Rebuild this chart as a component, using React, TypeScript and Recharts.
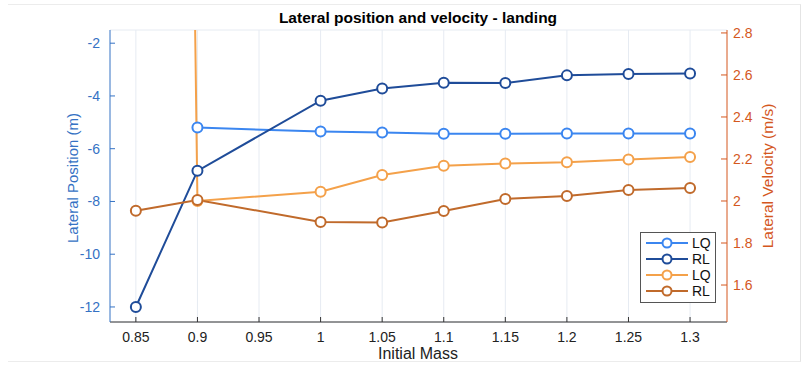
import React from 'react';
import { LineChart, Line, XAxis, YAxis, CartesianGrid } from 'recharts';

// Initial mass values on the x axis
const masses = [0.85, 0.9, 0.95, 1, 1.05, 1.1, 1.15, 1.2, 1.25, 1.3];

// Lateral position (m), left axis
const posLQ = [null, -5.2, null, -5.35, -5.39, -5.43, -5.43, -5.42, -5.42, -5.42];
const posRL = [-12.0, -6.84, null, -4.18, -3.72, -3.5, -3.51, -3.22, -3.17, -3.15];

// Lateral velocity (m/s), right axis
const velLQ = [24, 2.0, null, 2.044, 2.124, 2.168, 2.178, 2.184, 2.198, 2.21];
const velRL = [1.954, 2.005, null, 1.9, 1.898, 1.952, 2.01, 2.024, 2.052, 2.062];

const xTicks = [0.85, 0.9, 0.95, 1, 1.05, 1.1, 1.15, 1.2, 1.25, 1.3];
const posTicks = [-12, -10, -8, -6, -4, -2];
const velTicks = [1.6, 1.8, 2, 2.2, 2.4, 2.6, 2.8];

// no run at 0.95, so that row is dropped
const data = masses
  .map((m, i) => ({
    mass: m,
    posLQ: posLQ[i],
    posRL: posRL[i],
    velLQ: velLQ[i],
    velRL: velRL[i],
  }))
  .filter((d) => d.posRL !== null);

const FONT = '"Liberation Sans", Arial, Helvetica, sans-serif';
const BLUE_AXIS = '#3572c4';
const ORANGE_AXIS = '#d4571e';

const C_POS_LQ = '#3b86f0';
const C_POS_RL = '#1f4c99';
const C_VEL_LQ = '#f4a14a';
const C_VEL_RL = '#c06a2b';

const PLOT_LEFT = 110;
const PLOT_RIGHT = 727;
const PLOT_TOP = 30;
const PLOT_BOTTOM = 322;

const legendItems = [
  { label: 'LQ', color: C_POS_LQ },
  { label: 'RL', color: C_POS_RL },
  { label: 'LQ', color: C_VEL_LQ },
  { label: 'RL', color: C_VEL_RL },
];

function LegendBox() {
  return (
    <div
      style={{
        position: 'absolute',
        left: 640,
        top: 232,
        width: 76,
        height: 71,
        boxSizing: 'border-box',
        border: '1px solid #555',
        background: '#fff',
        padding: '2px 4px',
        fontFamily: FONT,
        fontSize: 14,
        color: '#111',
      }}
    >
      {legendItems.map((it, i) => (
        <div key={i} style={{ display: 'flex', alignItems: 'center', height: 16 }}>
          <svg width={44} height={14}>
            <line x1={1} y1={7} x2={43} y2={7} stroke={it.color} strokeWidth={2} />
            <circle cx={22} cy={7} r={4.5} fill="#fff" stroke={it.color} strokeWidth={2} />
          </svg>
          <span style={{ marginLeft: 3 }}>{it.label}</span>
        </div>
      ))}
    </div>
  );
}

const fmt = (v: number) => String(Number(v.toFixed(2)));

function XTick(props: any) {
  const { x, payload } = props;
  return (
    <g>
      <line x1={x} x2={x} y1={PLOT_BOTTOM} y2={PLOT_BOTTOM - 5} stroke="#333" strokeWidth={1} />
      <text x={x} y={PLOT_BOTTOM + 20} textAnchor="middle" fontSize={14} fontFamily={FONT} fill="#222">
        {fmt(payload.value)}
      </text>
    </g>
  );
}

function LeftTick(props: any) {
  const { y, payload } = props;
  return (
    <g>
      <line x1={PLOT_LEFT} x2={PLOT_LEFT + 5} y1={y} y2={y} stroke={BLUE_AXIS} strokeWidth={1} />
      <text x={PLOT_LEFT - 10} y={y + 5} textAnchor="end" fontSize={14} fontFamily={FONT} fill={BLUE_AXIS}>
        {fmt(payload.value)}
      </text>
    </g>
  );
}

function RightTick(props: any) {
  const { y, payload } = props;
  return (
    <g>
      <line x1={PLOT_RIGHT - 6} x2={PLOT_RIGHT} y1={y} y2={y} stroke={ORANGE_AXIS} strokeWidth={1} />
      <text x={PLOT_RIGHT + 6} y={y + 5} textAnchor="start" fontSize={14} fontFamily={FONT} fill={ORANGE_AXIS}>
        {fmt(payload.value)}
      </text>
    </g>
  );
}

const dotStyle = (color: string) => ({ r: 5, fill: '#fff', stroke: color, strokeWidth: 2 });

export default function App() {
  return (
    <div style={{ position: 'absolute', left: 0, top: 0, width: 805, height: 365, background: '#fff' }}>
      <div
        style={{
          position: 'absolute',
          left: 8,
          top: 4,
          width: 793,
          height: 358,
          borderTop: '1px solid #ececec',
          borderRight: '1px solid #e4e4e4',
          borderBottom: '1px solid #ececec',
          boxSizing: 'border-box',
        }}
      />
      <LineChart
        width={805}
        height={365}
        data={data}
        margin={{ top: PLOT_TOP, right: 0, left: 0, bottom: 0 }}
      >
        <CartesianGrid stroke="#e6ebf2" strokeWidth={1} verticalValues={xTicks} />
        <XAxis
          dataKey="mass"
          type="number"
          domain={[0.829, 1.33]}
          ticks={xTicks}
          allowDataOverflow
          height={43}
          stroke="#333"
          tickLine={false}
          tick={<XTick />}
          interval={0}
        />
        <YAxis
          yAxisId="pos"
          orientation="left"
          width={PLOT_LEFT}
          domain={[-12.57, -1.5]}
          ticks={posTicks}
          allowDataOverflow
          stroke={BLUE_AXIS}
          tickLine={false}
          tick={<LeftTick />}
          interval={0}
        />
        <YAxis
          yAxisId="vel"
          orientation="right"
          width={805 - PLOT_RIGHT}
          domain={[1.424, 2.814]}
          ticks={velTicks}
          allowDataOverflow
          stroke={ORANGE_AXIS}
          tickLine={false}
          tick={<RightTick />}
          interval={0}
        />
        <Line yAxisId="pos" dataKey="posLQ" stroke={C_POS_LQ} strokeWidth={2} dot={dotStyle(C_POS_LQ)} isAnimationActive={false} />
        <Line yAxisId="pos" dataKey="posRL" stroke={C_POS_RL} strokeWidth={2} dot={dotStyle(C_POS_RL)} isAnimationActive={false} />
        <Line yAxisId="vel" dataKey="velLQ" stroke={C_VEL_LQ} strokeWidth={2} dot={dotStyle(C_VEL_LQ)} isAnimationActive={false} />
        <Line yAxisId="vel" dataKey="velRL" stroke={C_VEL_RL} strokeWidth={2} dot={dotStyle(C_VEL_RL)} isAnimationActive={false} />
        <text x={418} y={23} textAnchor="middle" fontFamily={FONT} fontSize={15.5} fontWeight="bold" fill="#000">
          Lateral position and velocity - landing
        </text>
        <text x={418} y={359} textAnchor="middle" fontFamily={FONT} fontSize={16} fill="#222">
          Initial Mass
        </text>
        <text
          x={78}
          y={178}
          textAnchor="middle"
          fontFamily={FONT}
          fontSize={15}
          fill={BLUE_AXIS}
          transform="rotate(-90 78 178)"
        >
          Lateral Position (m)
        </text>
        <text
          x={773}
          y={176}
          textAnchor="middle"
          fontFamily={FONT}
          fontSize={15.5}
          fill={ORANGE_AXIS}
          transform="rotate(-90 773 176)"
        >
          Lateral Velocity (m/s)
        </text>
      </LineChart>
      <LegendBox />
    </div>
  );
}
